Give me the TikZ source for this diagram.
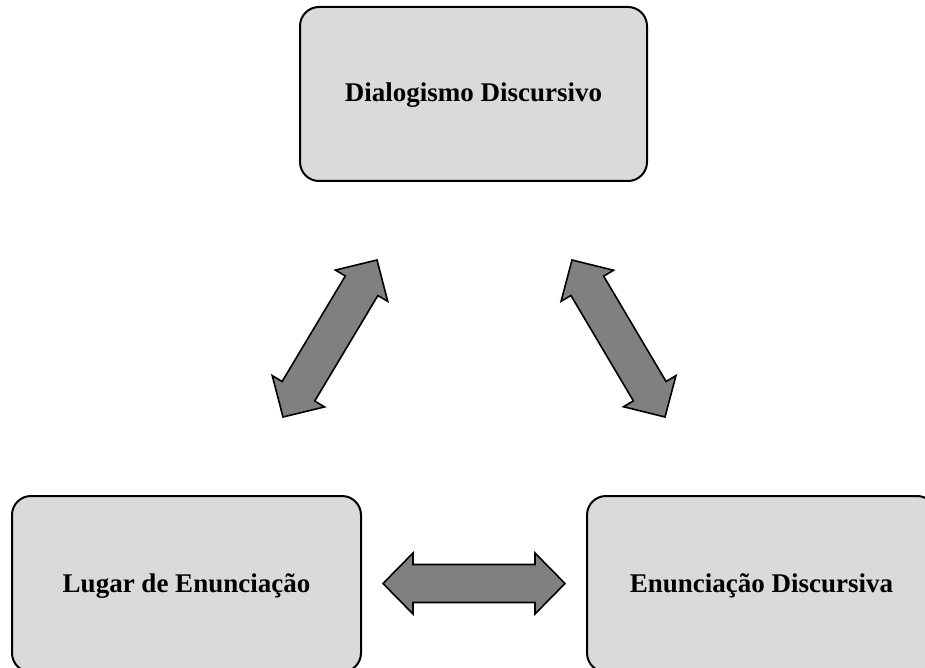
\documentclass[tikz,border=0pt]{standalone}
\usepackage{fontspec}
\setmainfont{Liberation Serif}
\usetikzlibrary{calc}
\definecolor{boxgray}{HTML}{DADADA}
\definecolor{arrgray}{HTML}{808080}
\tikzset{
  box/.style={draw=black, line width=2pt, fill=boxgray, rounded corners=19pt,
    inner sep=0pt, text height=16pt, text depth=0pt,
    font=\fontsize{27}{30}\selectfont\bfseries},
  bigarrow/.style={draw=black, line width=1.6pt, fill=arrgray, line join=miter},
}
\newcommand\biarrow[2]{%
 \draw[bigarrow] (#1)
 -- ($ ($(#1)!30pt!(#2)$)!30.5pt!90:(#2) $)
 -- ($ ($(#1)!30pt!(#2)$)!19pt!90:(#2) $)
 -- ($ ($(#2)!30pt!(#1)$)!19pt!-90:(#1) $)
 -- ($ ($(#2)!30pt!(#1)$)!30.5pt!-90:(#1) $)
 -- (#2)
 -- ($ ($(#2)!30pt!(#1)$)!30.5pt!90:(#1) $)
 -- ($ ($(#2)!30pt!(#1)$)!19pt!90:(#1) $)
 -- ($ ($(#1)!30pt!(#2)$)!19pt!-90:(#2) $)
 -- ($ ($(#1)!30pt!(#2)$)!30.5pt!-90:(#2) $)
 -- cycle;}
\begin{document}
\begin{tikzpicture}[x=1pt,y=-1pt]
\useasboundingbox (0,0) rectangle (925,668);
\node[box, minimum width=347pt, minimum height=174pt] (dd) at (473.5,94) {Dialogismo Discursivo};
\node[box, minimum width=349pt, minimum height=176pt] (le) at (186.5,584) {Lugar de Enunciação};
\node[box, minimum width=349pt, minimum height=176pt] (ed) at (761.5,584) {Enunciação Discursiva};
\coordinate (a1) at (283,417);
\coordinate (a2) at (377,260);
\coordinate (b1) at (572,260);
\coordinate (b2) at (665,417);
\coordinate (c1) at (383,583.5);
\coordinate (c2) at (565,583.5);
\biarrow{a1}{a2}
\biarrow{b1}{b2}
\biarrow{c1}{c2}
\end{tikzpicture}
\end{document}
